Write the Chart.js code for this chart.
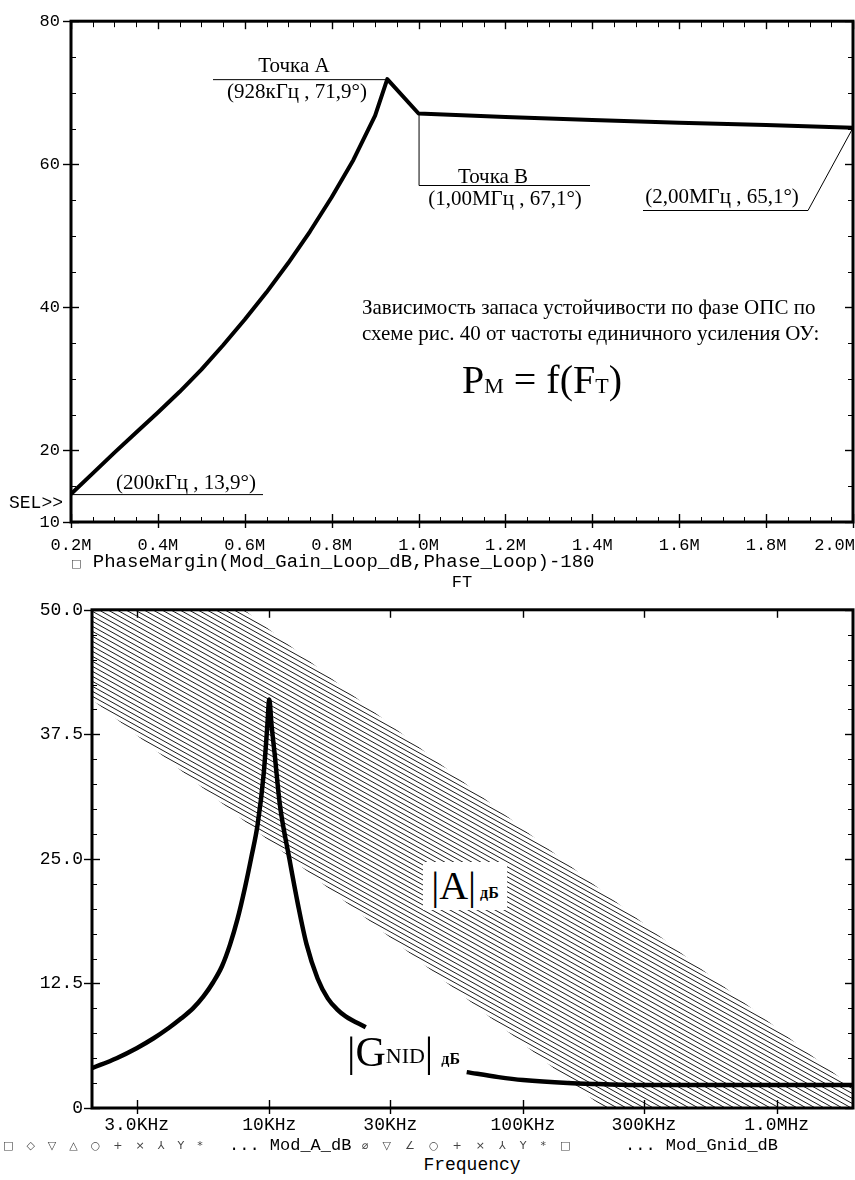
<!DOCTYPE html>
<html lang="ru">
<head>
<meta charset="UTF-8">
<title>PhaseMargin / Mod_A_dB, Mod_Gnid_dB</title>
<script src="https://cdn.jsdelivr.net/npm/chart.js"></script>
<style>
  body { margin: 0; background: #fff; }
  #page { position: relative; width: 855px; height: 1180px; overflow: hidden; color: #000; }
  .box { position: absolute; left: 0; width: 855px; }
  .t { position: absolute; white-space: nowrap; line-height: 1; transform: translate(-50%, -50%); }
  .l { position: absolute; white-space: nowrap; line-height: 1; transform: translateY(-50%); }
  .mono { font-family: 'Liberation Mono', monospace; }
  .serif { font-family: 'Liberation Serif', serif; font-size: 21px; }
  .sym { font-family: 'DejaVu Sans', sans-serif; font-size: 11px; color: #444; letter-spacing: 13px; }
</style>
</head>
<body>
<div id="page">
  <div class="box" style="top:0; height:560px"><canvas id="pm"></canvas></div>
  <div class="box" style="top:590px; height:555px"><canvas id="gain"></canvas></div>

  <!-- top chart notes -->
  <div class="t serif" style="left:294px; top:65px">Точка А</div>
  <div class="t serif" style="left:297px; top:91px">(928кГц , 71,9°)</div>
  <div class="t serif" style="left:493px; top:176px">Точка В</div>
  <div class="t serif" style="left:505px; top:198px">(1,00МГц , 67,1°)</div>
  <div class="t serif" style="left:722px; top:196px">(2,00МГц , 65,1°)</div>
  <div class="t serif" style="left:186px; top:482px">(200кГц , 13,9°)</div>
  <div class="t mono" style="left:36px; top:503px; font-size:18px">SEL&gt;&gt;</div>
  <div class="l serif" style="left:362px; top:307px">Зависимость запаса устойчивости по фазе ОПС по</div>
  <div class="l serif" style="left:362px; top:333px">схеме рис. 40 от частоты единичного усиления ОУ:</div>
  <div class="l serif" style="left:462px; top:380px; font-size:40px">P<span style="font-size:22px">M</span> = f(F<span style="font-size:22px">T</span>)</div>
  <div class="l mono" style="left:71px; top:562px; font-size:19px"><span class="sym" style="letter-spacing:0">□</span>&nbsp;PhaseMargin(Mod_Gain_Loop_dB,Phase_Loop)-180</div>
  <div class="t mono" style="left:462px; top:582px; font-size:17px">FT</div>

  <!-- bottom chart notes -->
  <div class="l serif" style="left:423px; top:886px; height:48px; width:84px; background:#fff; display:flex; align-items:center; justify-content:center">
    <span style="font-size:40px">|A|</span><span style="font-size:16px; font-weight:bold; margin-left:4px; margin-top:14px">дБ</span>
  </div>
  <div class="l serif" style="left:347px; top:1052px; display:flex; align-items:center">
    <span style="font-size:42px">|G</span><span style="font-size:22px; margin-top:8px">NID</span><span style="font-size:42px">|</span><span style="font-size:16px; font-weight:bold; margin-left:8px; margin-top:14px">дБ</span>
  </div>
  <div class="l sym" style="left:3px; top:1145px">□◇▽△○+×⅄Y*</div>
  <div class="l mono" style="left:229px; top:1145px; font-size:17px">... Mod_A_dB</div>
  <div class="l sym" style="left:362px; top:1145px; letter-spacing:14px">⌀▽∠○+×⅄Y*□</div>
  <div class="l mono" style="left:625px; top:1145px; font-size:17px">... Mod_Gnid_dB</div>
  <div class="t mono" style="left:472px; top:1165px; font-size:18px">Frequency</div>
</div>

<script>
// ---- top chart: phase margin vs unity-gain frequency FT (MHz) ----
const ftMHz       = [0.2, 0.25, 0.3, 0.35, 0.4, 0.45, 0.5, 0.55, 0.6, 0.65, 0.7, 0.75, 0.8, 0.85, 0.9, 0.928, 1.0, 1.2, 1.4, 1.6, 1.8, 2.0];
const phaseMargin = [13.9, 16.8, 19.7, 22.5, 25.3, 28.2, 31.3, 34.7, 38.3, 42.1, 46.2, 50.6, 55.4, 60.6, 66.8, 71.9, 67.1, 66.6, 66.2, 65.8, 65.5, 65.1];
const ftTicks      = [0.2, 0.4, 0.6, 0.8, 1.0, 1.2, 1.4, 1.6, 1.8, 2.0];
const ftTickLabels = ['0.2M', '0.4M', '0.6M', '0.8M', '1.0M', '1.2M', '1.4M', '1.6M', '1.8M', '2.0M'];
const pmTicks      = [10, 20, 40, 60, 80];

// ---- bottom chart: |A| band and |Gnid| vs frequency (Hz) ----
const gnidFreq = [2000, 2500, 3000, 3500, 4000, 4500, 5000, 5500, 6000, 6500, 7000, 7500, 8000, 8500, 9000, 9500, 9800, 10000,
                  10200, 10500, 11000, 12000, 13000, 14000, 15500, 17000, 18500, 20000, 24000,
                  40000,
                  60000, 80000, 100000, 150000, 200000, 300000, 1000000, 2000000];
const gnidDb   = [4.0, 5.0, 6.0, 7.0, 8.0, 9.0, 10.0, 11.2, 12.6, 14.2, 16.4, 19.0, 22.0, 25.2, 28.5, 33.5, 38.0, 41.0,
                  38.5, 35.5, 30.5, 25.0, 20.3, 16.5, 13.0, 11.0, 9.9, 9.2, 8.1,
                  null,
                  3.6, 3.1, 2.8, 2.5, 2.4, 2.3, 2.3, 2.3];
const aFreq    = [2000, 2000000];
const aUpperDb = [62, 2];
const aLowerDb = [41, -20];
const freqTicks      = [3000, 10000, 30000, 100000, 300000, 1000000];
const freqTickLabels = ['3.0KHz', '10KHz', '30KHz', '100KHz', '300KHz', '1.0MHz'];
const dbTicks      = [0, 12.5, 25, 37.5, 50];
const dbTickLabels = ['0', '12.5', '25.0', '37.5', '50.0'];

function steps(from, to, step) {
  const out = [];
  for (let v = from; v <= to + 1e-9; v += step) out.push(Math.round(v * 1000) / 1000);
  return out;
}

// frame with inward minor ticks and crossing major ticks
function frame(cfg) {
  return {
    id: 'frame',
    afterDraw(chart) {
      const { ctx, chartArea: a, scales: { x, y } } = chart;
      const seg = (x1, y1, x2, y2) => { ctx.beginPath(); ctx.moveTo(x1, y1); ctx.lineTo(x2, y2); ctx.stroke(); };
      ctx.save();
      ctx.strokeStyle = '#000';
      ctx.lineWidth = 1;
      (cfg.xMinor || []).forEach(v => {
        const px = Math.round(x.getPixelForValue(v)) + 0.5;
        seg(px, a.bottom, px, a.bottom - 5);
        seg(px, a.top, px, a.top + 6);
      });
      (cfg.yMinor || []).forEach(v => {
        const py = Math.round(y.getPixelForValue(v)) + 0.5;
        seg(a.left, py, a.left + 5, py);
        seg(a.right, py, a.right - 5, py);
      });
      ctx.lineWidth = 1.4;
      cfg.xMajor.forEach(v => {
        const px = Math.round(x.getPixelForValue(v)) + 0.5;
        seg(px, a.bottom + 6, px, a.bottom - 8);
        seg(px, a.top, px, a.top + 8);
      });
      cfg.yMajor.forEach(v => {
        const py = Math.round(y.getPixelForValue(v)) + 0.5;
        seg(a.left - 8, py, a.left + 8, py);
        seg(a.right, py, a.right - 8, py);
      });
      ctx.lineWidth = 3;
      ctx.strokeRect(a.left, a.top, a.right - a.left, a.bottom - a.top);
      if (cfg.xLabels) {
        ctx.fillStyle = '#000';
        ctx.font = '17px "Liberation Mono"';
        ctx.textBaseline = 'middle';
        cfg.xMajor.forEach((v, i) => {
          const last = i === cfg.xMajor.length - 1;
          ctx.textAlign = last ? 'right' : 'center';
          ctx.fillText(cfg.xLabels[i], last ? chart.width : x.getPixelForValue(v), cfg.labelY);
        });
      }
      ctx.restore();
    }
  };
}

// thin leader lines from the marked points to their captions
const iA = ftMHz.indexOf(0.928), iB = ftMHz.indexOf(1.0), iEnd = ftMHz.length - 1;
const leaders = {
  id: 'leaders',
  afterDatasetsDraw(chart) {
    const { ctx, scales: { x, y } } = chart;
    const P = i => [x.getPixelForValue(ftMHz[i]), y.getPixelForValue(phaseMargin[i])];
    const path = pts => { ctx.beginPath(); ctx.moveTo(pts[0][0], pts[0][1]); pts.slice(1).forEach(p => ctx.lineTo(p[0], p[1])); ctx.stroke(); };
    ctx.save();
    ctx.strokeStyle = '#000';
    ctx.lineWidth = 1;
    const a = P(iA), b = P(iB), e = P(iEnd), s = P(0);
    path([[213, a[1] + 0.5], [a[0], a[1] + 0.5]]);
    path([[b[0] + 0.5, b[1]], [b[0] + 0.5, 185.5], [590, 185.5]]);
    path([e, [808, 210.5], [643, 210.5]]);
    path([[s[0], s[1] + 0.5], [263, s[1] + 0.5]]);
    ctx.restore();
  }
};

const tickFont = size => ({ family: 'Liberation Mono', size: size });

new Chart(document.getElementById('pm'), {
  type: 'line',
  data: {
    datasets: [{
      label: 'PhaseMargin(Mod_Gain_Loop_dB,Phase_Loop)-180',
      data: ftMHz.map((v, i) => ({ x: v, y: phaseMargin[i] })),
      borderColor: '#000',
      borderWidth: 4,
      pointRadius: 0,
      tension: 0,
      borderJoinStyle: 'round'
    }]
  },
  options: {
    responsive: true,
    maintainAspectRatio: false,
    animation: false,
    layout: { padding: { top: 18, right: 2, left: 0, bottom: 0 } },
    plugins: { legend: { display: false }, tooltip: { enabled: false } },
    scales: {
      x: {
        type: 'linear', min: 0.2, max: 2.0,
        grid: { display: false, drawTicks: false }, border: { display: false },
        ticks: { display: false },
        afterBuildTicks: s => { s.ticks = ftTicks.map(v => ({ value: v })); },
        afterFit: s => { s.height = 38; s.paddingLeft = 0; s.paddingRight = 0; }
      },
      y: {
        min: 10, max: 80,
        grid: { display: false, drawTicks: false }, border: { display: false },
        ticks: { font: tickFont(17), color: '#000', padding: 11, callback: v => String(v) },
        afterBuildTicks: s => { s.ticks = pmTicks.map(v => ({ value: v })); },
        afterFit: s => { s.width = 71; }
      }
    }
  },
  plugins: [frame({ xMajor: ftTicks, xMinor: steps(0.2, 2.0, 0.05), yMajor: pmTicks, yMinor: steps(10, 80, 5),
                    xLabels: ftTickLabels, labelY: 545 }), leaders]
});

// hatch for the |A| band
const gainCanvas = document.getElementById('gain');
const tile = document.createElement('canvas');
tile.width = 9; tile.height = 5;
const tg = tile.getContext('2d');
tg.strokeStyle = '#000';
tg.lineWidth = 0.9;
[-5, 0, 5].forEach(dy => { tg.beginPath(); tg.moveTo(-1, dy - 5 / 9); tg.lineTo(10, dy + 5 + 5 / 9); tg.stroke(); });
const hatch = gainCanvas.getContext('2d').createPattern(tile, 'repeat');

new Chart(gainCanvas, {
  type: 'line',
  data: {
    datasets: [
      {
        label: 'Mod_Gnid_dB',
        data: gnidFreq.map((f, i) => ({ x: f, y: gnidDb[i] })),
        borderColor: '#000', borderWidth: 4.5, pointRadius: 0,
        cubicInterpolationMode: 'monotone',
        borderJoinStyle: 'round', spanGaps: false, fill: false
      },
      {
        label: 'Mod_A_dB',
        data: aFreq.map((f, i) => ({ x: f, y: aUpperDb[i] })),
        borderWidth: 0, borderColor: 'rgba(0,0,0,0)', pointRadius: 0,
        fill: '+1', backgroundColor: hatch
      },
      {
        label: 'Mod_A_dB (low)',
        data: aFreq.map((f, i) => ({ x: f, y: aLowerDb[i] })),
        borderWidth: 0, borderColor: 'rgba(0,0,0,0)', pointRadius: 0, fill: false
      }
    ]
  },
  options: {
    responsive: true,
    maintainAspectRatio: false,
    animation: false,
    layout: { padding: { top: 13, right: 2, left: 0, bottom: 0 } },
    plugins: { legend: { display: false }, tooltip: { enabled: false } },
    scales: {
      x: {
        type: 'logarithmic', min: 2000, max: 2000000,
        grid: { display: false, drawTicks: false }, border: { display: false },
        ticks: { font: tickFont(18), color: '#000', padding: 6, maxRotation: 0, autoSkip: false,
                 callback: (v, i) => freqTickLabels[i] },
        afterBuildTicks: s => { s.ticks = freqTicks.map(v => ({ value: v })); },
        afterFit: s => { s.height = 37; }
      },
      y: {
        min: 0, max: 50,
        grid: { display: false, drawTicks: false }, border: { display: false },
        ticks: { font: tickFont(18), color: '#000', padding: 9, callback: (v, i) => dbTickLabels[i] },
        afterBuildTicks: s => { s.ticks = dbTicks.map(v => ({ value: v })); },
        afterFit: s => { s.width = 92; }
      }
    }
  },
  plugins: [frame({ xMajor: freqTicks, yMajor: dbTicks, yMinor: steps(0, 50, 2.5) })]
});
</script>
</body>
</html>
